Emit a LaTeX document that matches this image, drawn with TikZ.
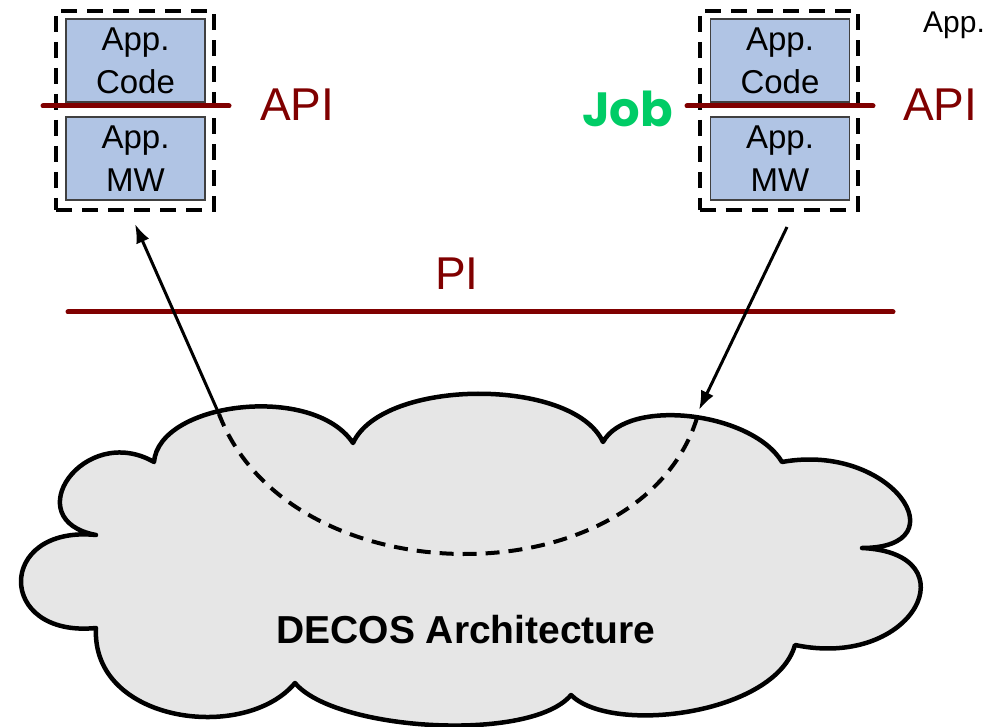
\documentclass[tikz,border=0pt]{standalone}
\usepackage{fontspec}
\setmainfont{Liberation Sans}
\newfontfamily\jobfont{Poppins}
\usetikzlibrary{arrows.meta, positioning}
\definecolor{apired}{HTML}{800000}
\definecolor{appblue}{HTML}{B0C4E4}
\definecolor{jobgreen}{HTML}{00CC66}
\definecolor{cloudgray}{HTML}{E6E6E6}
\tikzset{
  jobbox/.style={draw, line width=4pt, dash pattern=on 16pt off 10pt, minimum width=158pt, minimum height=199pt, inner sep=0pt},
  appbox/.style={draw=black!75, line width=1.4pt, fill=appblue, minimum width=139pt, minimum height=83pt, inner sep=0pt, align=center, font=\fontsize{33}{43}\selectfont},
  apiline/.style={apired, line width=5pt, line cap=round},
  apilabel/.style={apired, anchor=base west, inner sep=0pt, font=\fontsize{46}{46}\selectfont},
  msgarrow/.style={line width=3pt, -{Latex[length=19pt,width=14pt]}},
}

\begin{document}
\begin{tikzpicture}[x=1pt, y=-1pt]
  \useasboundingbox (0,0) rectangle (994,727);
  % the cloud
  \draw[line width=4.5pt, fill=cloudgray, line join=round]
    (154,462) .. controls +(5,-60) and +(-40,-60) .. (353,443)
    .. controls +(30,-65) and +(-30,-65) .. (603,442)
    .. controls +(25,-45) and +(-30,-50) .. (782,462)
    .. controls +(110,-20) and +(100,0) .. (862,548)
    .. controls +(110,5) and +(120,25) .. (795,645)
    .. controls +(-20,70) and +(40,40) .. (571,695)
    .. controls +(-40,48) and +(40,48) .. (295,683)
    .. controls +(-50,60) and +(-5,95) .. (96,628)
    .. controls +(-100,10) and +(-100,-10) .. (96,535)
    .. controls +(-80,-15) and +(-70,-40) .. (154,462) -- cycle;
  \node[font=\fontsize{39}{39}\selectfont\bfseries, anchor=base, inner sep=0pt] (decos) at (466,643) {DECOS Architecture};

  % PI
  \draw[apiline] (68,312) -- (893,312);
  \node[apilabel] (pi) at (435,290) {PI};

  % left job
  \node[jobbox] (ljob) at (135,110.5) {};
  \node[appbox] (lcode) at (135.5,60.5) {App.\\Code};
  \node[appbox] (lmw) at (135.5,158.5) {App.\\MW};
  \draw[apiline] (43,106) -- (229,106);
  \node[apilabel] (lapi) at (260,121) {API};

  % right job
  \node[jobbox] (rjob) at (778.5,110.5) {};
  \node[appbox] (rcode) at (780,60.5) {App.\\Code};
  \node[appbox] (rmw) at (780,158.5) {App.\\MW};
  \draw[apiline] (687,106) -- (873,106);
  \node[apilabel] (rapi) at (903,121) {API};
  \node[jobgreen, anchor=base west, inner sep=0pt, font=\jobfont\bfseries\fontsize{48}{48}\selectfont] (jobtxt) at (582,127) {Job};
  \node[anchor=base west, inner sep=0pt, font=\fontsize{30}{30}\selectfont] (apptxt) at (923,33) {App.};

  % message path
  \coordinate (rstart) at ([xshift=8.5pt,yshift=-15pt]rjob.south);
  \coordinate (rin) at (699,410);
  \coordinate (rdash) at (697,418);
  \coordinate (lout) at (219,414);
  \coordinate (lend) at ([yshift=-12pt]ljob.south);
  \draw[msgarrow] (rstart) -- (rin);
  \draw[line width=4pt, dash pattern=on 14pt off 9pt] (rdash) .. controls (640,600) and (290,600) .. (lout);
  \draw[msgarrow] (lout) -- (lend);
\end{tikzpicture}
\end{document}
